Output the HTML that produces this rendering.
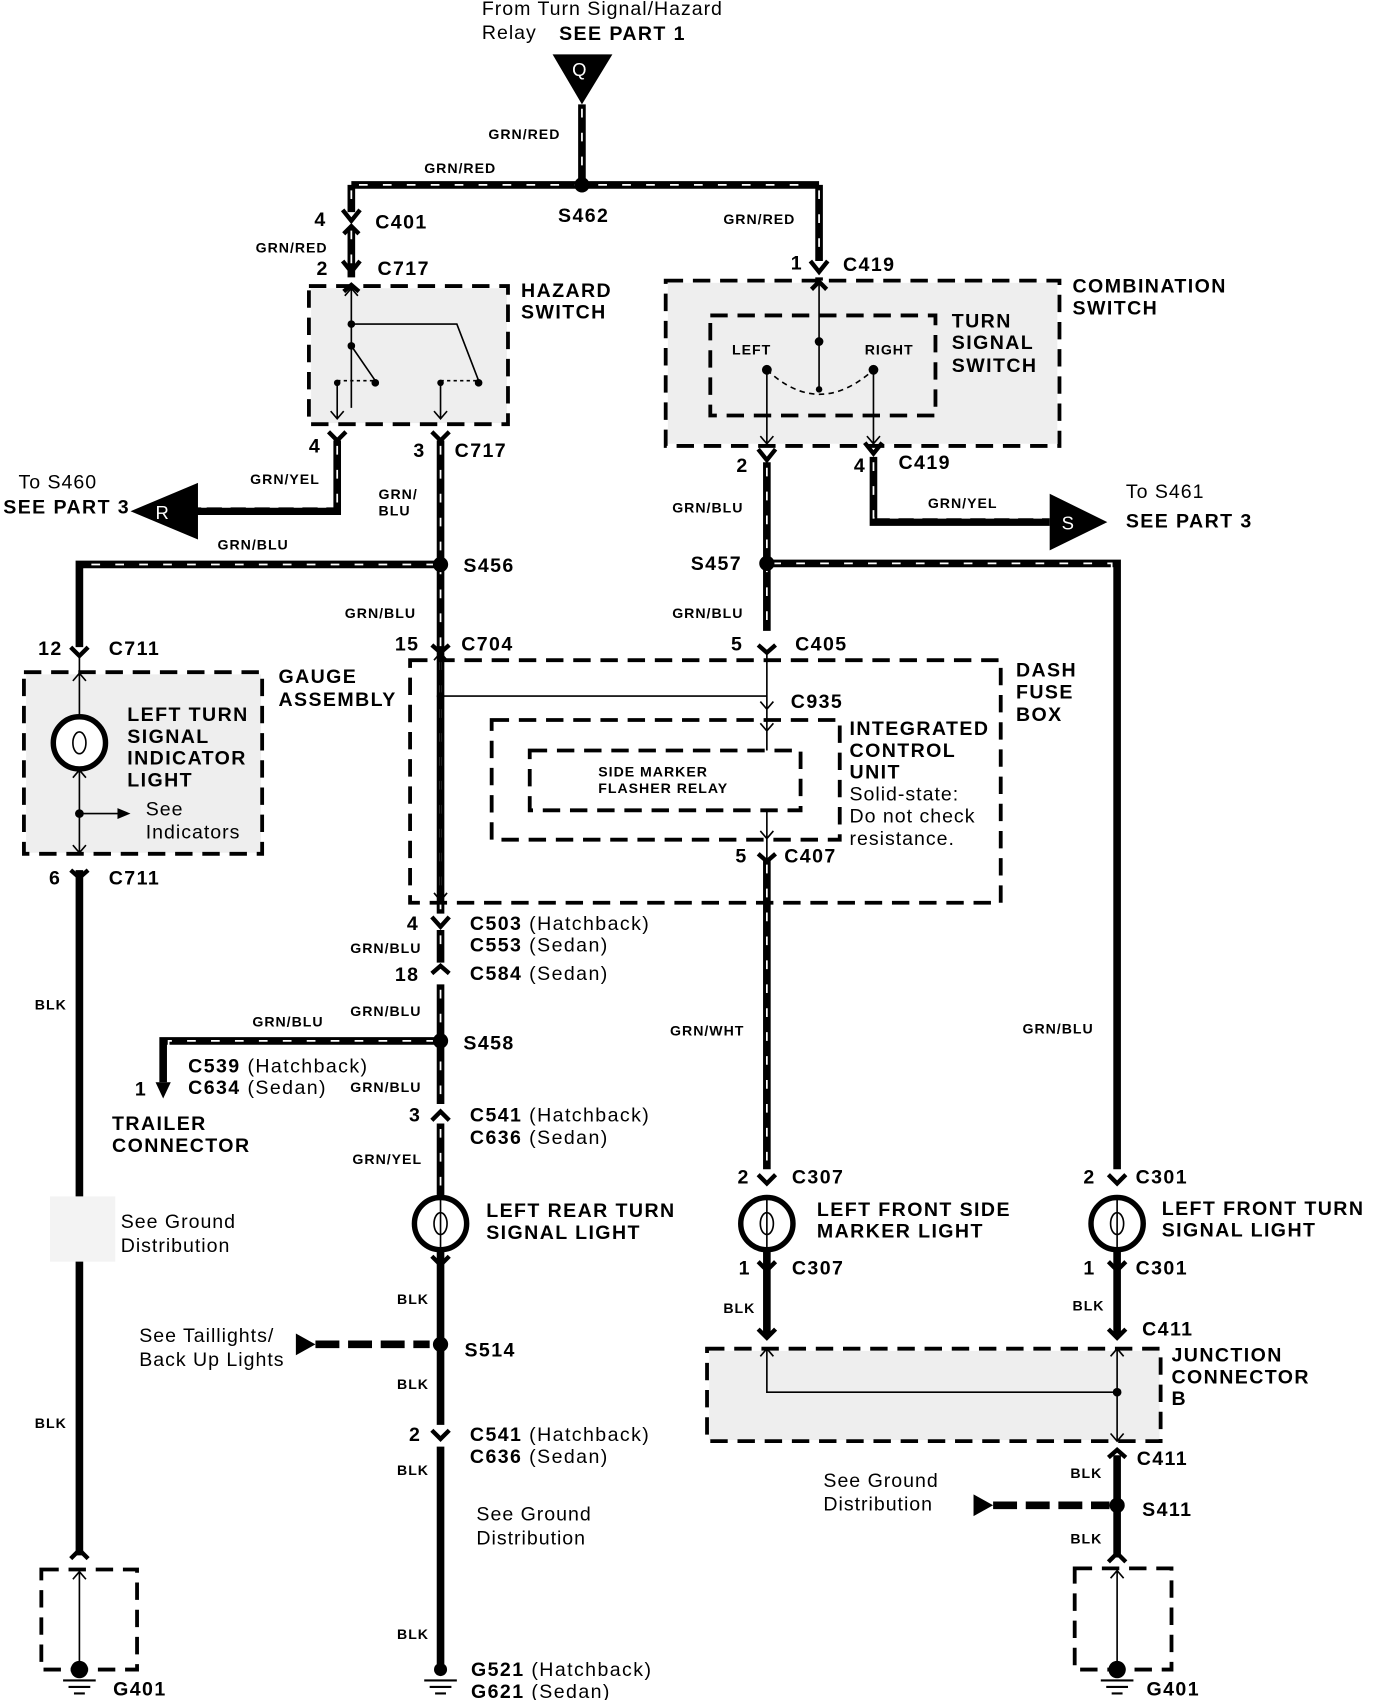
<!DOCTYPE html>
<html><head><meta charset="utf-8"><style>
html,body{margin:0;padding:0;background:#fff}
svg{display:block}
text{font-family:"Liberation Sans",sans-serif;fill:#000}
.b{font-weight:bold;font-size:18px;letter-spacing:1.3px}
.s{font-weight:bold;font-size:13px;letter-spacing:0.9px}
.n{font-size:18px;letter-spacing:0.9px}
.w{stroke:#000;stroke-width:7;fill:none}
.d{stroke:#fff;stroke-width:1.6;stroke-dasharray:8 14;fill:none}
.t{stroke:#000;stroke-width:1.5;fill:none}
.box{stroke:#000;stroke-width:3.5;stroke-dasharray:16 9;fill:none}
.g{fill:#eee}
.c{stroke:#000;stroke-width:4;fill:none}
</style></head><body>
<svg width="1376" height="1700" viewBox="0 0 1265 1563" preserveAspectRatio="none" xmlns="http://www.w3.org/2000/svg">
<rect class="g" x="286" y="265" width="180" height="124"/>
<rect class="g" x="614" y="260" width="358" height="148"/>
<rect class="g" x="24" y="620" width="216" height="164"/>
<rect class="g" x="652" y="1242" width="414" height="82"/>
<rect x="46" y="1100" width="60" height="60" fill="#f3f3f3"/>

<text class="n" x="443" y="14">From Turn Signal/Hazard</text>
<text class="n" x="443" y="36">Relay</text>
<text class="b" x="514" y="37">SEE PART 1</text>
<polygon points="508,50 563,50 535,96" fill="#000"/>
<text x="526" y="70" font-size="17" style="fill:#fff">Q</text>

<g>
<path class="w" d="M535,96 V170 M323,170 H753 M323,170 V195 M753,170 V240 M323,210 V255 M753,255 V258"/>
<path class="w" d="M310,405 V470 H180"/>
<path class="w" d="M405,405 V840 M405,855 V885 M405,905 V1015 M405,1033 V1100"/>
<path class="w" d="M405,519 H73 V595"/>
<path class="w" d="M405,957 H150 V995"/>
<path class="w" d="M705,425 V580 M705,790 V1075"/>
<path class="w" d="M705,518 H1027 V1075"/>
<path class="w" d="M803,420 V480 H965"/>
</g>
<g>
<path class="d" d="M535,100 V165 M330,170 H748 M753,175 V236 M323,175 V192 M323,212 V250"/>
<path class="d" d="M310,410 V466 H185"/>
<path class="d" d="M405,410 V836 M405,860 V882 M405,910 V1012 M405,1038 V1096"/>
<path class="d" d="M400,519 H78 V590"/>
<path class="d" d="M400,957 H155 V990"/>
<path class="d" d="M705,430 V576 M705,795 V1072"/>
<path class="d" d="M710,518 H1022 V1072"/>
<path class="d" d="M803,425 V476 H960"/>
</g>
<path class="w" d="M73,800 V1100 M73,1160 V1430 M405,1150 V1310 M405,1330 V1530 M705,1150 V1228 M1027,1150 V1228 M1027,1338 V1432"/>

<polygon points="120,470 182,444 182,496" fill="#000"/><text x="143" y="477" font-size="17" style="fill:#fff">R</text>
<polygon points="965,454 1018,480 965,506" fill="#000"/><text x="976" y="487" font-size="17" style="fill:#fff">S</text>
<polygon points="272,1226 290,1236 272,1246" fill="#000"/><path d="M290,1236 H395" stroke="#000" stroke-width="7" stroke-dasharray="22 8"/>
<polygon points="895,1374 913,1384 895,1394" fill="#000"/><path d="M913,1384 H1020" stroke="#000" stroke-width="7" stroke-dasharray="22 8"/>
<path d="M150,995 L143,995 L150,1010 L157,995 Z" fill="#000"/>

<circle cx="535" cy="170" r="7"/><circle cx="405" cy="519" r="7"/><circle cx="705" cy="518" r="7"/>
<circle cx="405" cy="957" r="7"/><circle cx="405" cy="1236" r="7"/><circle cx="1027" cy="1384" r="7"/>

<g class="c">
<path d="M315,193 L323,203 L331,193 M316,215 L323,208 L330,215"/>
<path d="M315,240 L323,250 L331,240 M316,268 L323,262 L330,268"/>
<path d="M745,240 L753,250 L761,240 M746,266 L753,259 L760,266"/>
<path d="M302,397 L310,405 L318,397 M397,397 L405,405 L413,397"/>
<path d="M697,413 L705,423 L713,413 M795,407 L803,417 L811,407"/>
<path d="M397,593 L405,600 L413,593 M697,593 L705,600 L713,593"/>
<path d="M65,595 L73,603 L81,595 M65,800 L73,807 L81,800"/>
<path d="M697,785 L705,792 L713,785"/>
<path d="M397,843 L405,852 L413,843 M397,895 L405,888 L413,895"/>
<path d="M397,1030 L405,1022 L413,1030"/>
<path d="M697,1080 L705,1088 L713,1080 M1019,1080 L1027,1088 L1035,1080"/>
<path d="M397,1155 L405,1163 L413,1155 M697,1160 L705,1168 L713,1160 M1019,1160 L1027,1168 L1035,1160"/>
<path d="M697,1222 L705,1230 L713,1222 M1019,1222 L1027,1230 L1035,1222"/>
<path d="M1019,1340 L1027,1333 L1035,1340"/>
<path d="M397,1315 L405,1323 L413,1315"/>
<path d="M65,1433 L73,1425 L81,1433 M1019,1436 L1027,1428 L1035,1436"/>
</g>

<rect class="box" x="284" y="263" width="183" height="127"/>
<rect class="box" x="612" y="258" width="362" height="152"/>
<rect class="box" x="653" y="290" width="207" height="92"/>
<rect class="box" x="22" y="618" width="219" height="167"/>
<rect class="box" x="377" y="607" width="543" height="223"/>
<rect class="box" x="452" y="662" width="320" height="110"/>
<rect class="box" x="487" y="690" width="249" height="55"/>
<rect class="box" x="650" y="1240" width="417" height="85"/>
<rect class="box" x="38" y="1443" width="88" height="92"/>
<rect class="box" x="988" y="1442" width="89" height="93"/>

<g class="t">
<path d="M323,265 V375 M317,272 L323,265 L329,272"/>
<path d="M323,298 H420 L440,350 M323,318 L345,350 M310,350 V385 M405,350 V385 M304,378 L310,385 L316,378 M399,378 L405,385 L411,378"/>
<path d="M310,350 H345 M405,350 H440" stroke-dasharray="3 3"/>
</g>
<circle cx="323" cy="298" r="3.5"/><circle cx="323" cy="318" r="3.5"/><circle cx="345" cy="352" r="3.5"/><circle cx="440" cy="352" r="3.5"/>
<circle cx="310" cy="352" r="3"/><circle cx="405" cy="352" r="3"/>
<g class="t">
<path d="M753,260 V360 M747,267 L753,260 L759,267 M705,340 V408 M803,340 V408 M699,401 L705,408 L711,401 M797,401 L803,408 L809,401"/>
<path d="M705,340 Q753,385 803,340" stroke-dasharray="5 4"/>
</g>
<circle cx="753" cy="314" r="4"/><circle cx="705" cy="340" r="4.5"/><circle cx="803" cy="340" r="4.5"/><circle cx="753" cy="358" r="3"/>
<g class="t">
<path d="M405,600 V828 M399,821 L405,828 L411,821 M405,640 H705 M705,600 V690 M705,745 V790 M699,645 L705,652 L711,645 M699,665 L705,672 L711,665 M699,764 L705,771 L711,764 M399,607 L405,600 L411,607"/>
</g>
<circle cx="405" cy="640" r="3.5"/>
<circle cx="73" cy="683" r="24" fill="#fff" stroke="#000" stroke-width="5"/>
<ellipse cx="73" cy="683" rx="6" ry="10" fill="none" stroke="#000" stroke-width="1.5"/>
<path class="t" d="M73,605 V659 M73,707 V785 M73,748 H112 M67,626 L73,619 L79,626 M67,715 L73,708 L79,715 M67,777 L73,784 L79,777"/>
<polygon points="108,743 120,748 108,753" fill="#000"/><circle cx="73" cy="748" r="4"/>
<g>
<circle cx="405" cy="1125" r="24" fill="#fff" stroke="#000" stroke-width="5"/>
<circle cx="705" cy="1125" r="24" fill="#fff" stroke="#000" stroke-width="5"/>
<circle cx="1027" cy="1125" r="24" fill="#fff" stroke="#000" stroke-width="5"/>
<path class="t" d="M405,1100 V1150 M705,1100 V1150 M1027,1100 V1150"/>
<ellipse cx="405" cy="1125" rx="6" ry="10" fill="none" stroke="#000" stroke-width="1.5"/>
<ellipse cx="705" cy="1125" rx="6" ry="10" fill="none" stroke="#000" stroke-width="1.5"/>
<ellipse cx="1027" cy="1125" rx="6" ry="10" fill="none" stroke="#000" stroke-width="1.5"/>
</g>
<path class="t" d="M705,1240 V1280 H1027 M1027,1240 V1325 M699,1247 L705,1240 L711,1247 M1021,1247 L1027,1240 L1033,1247 M1021,1318 L1027,1325 L1033,1318"/>
<circle cx="1027" cy="1280" r="4"/>
<path class="t" d="M73,1445 V1535 M67,1452 L73,1445 L79,1452 M1027,1444 V1535 M1021,1451 L1027,1444 L1033,1451"/>
<circle cx="73" cy="1535" r="8"/><circle cx="1027" cy="1535" r="8"/><circle cx="405" cy="1535" r="6"/>
<path d="M58,1545 H88 M63,1551 H83 M68,1557 H78 M1012,1545 H1042 M1017,1551 H1037 M1022,1557 H1032 M390,1545 H420 M395,1551 H415 M400,1557 H410" stroke="#000" stroke-width="2"/>

<text class="s" x="449" y="128">GRN/RED</text>
<text class="s" x="390" y="159">GRN/RED</text>
<text class="s" x="665" y="206">GRN/RED</text>
<text class="s" x="235" y="232">GRN/RED</text>
<text class="b" x="289" y="208">4</text><text class="b" x="345" y="210">C401</text>
<text class="b" x="513" y="204">S462</text>
<text class="b" x="291" y="253">2</text><text class="b" x="347" y="253">C717</text>
<text class="b" x="727" y="248">1</text><text class="b" x="775" y="249">C419</text>
<text class="b" x="479" y="273">HAZARD</text><text class="b" x="479" y="293">SWITCH</text>
<text class="b" x="986" y="269">COMBINATION</text><text class="b" x="986" y="289">SWITCH</text>
<text class="b" x="875" y="301">TURN</text><text class="b" x="875" y="321">SIGNAL</text><text class="b" x="875" y="342">SWITCH</text>
<text class="s" x="673" y="326">LEFT</text><text class="s" x="795" y="326">RIGHT</text>
<text class="b" x="284" y="416">4</text><text class="b" x="380" y="420">3</text><text class="b" x="418" y="420">C717</text>
<text class="b" x="677" y="434">2</text><text class="b" x="785" y="434">4</text><text class="b" x="826" y="431">C419</text>
<text class="n" x="17" y="449">To S460</text><text class="b" x="3" y="472">SEE PART 3</text>
<text class="s" x="230" y="445">GRN/YEL</text>
<text class="s" x="348" y="459">GRN/</text><text class="s" x="348" y="474">BLU</text>
<text class="s" x="618" y="471">GRN/BLU</text>
<text class="s" x="853" y="467">GRN/YEL</text>
<text class="n" x="1035" y="458">To S461</text><text class="b" x="1035" y="485">SEE PART 3</text>
<text class="s" x="200" y="505">GRN/BLU</text>
<text class="b" x="426" y="526">S456</text><text class="b" x="635" y="524">S457</text>
<text class="s" x="317" y="568">GRN/BLU</text><text class="s" x="618" y="568">GRN/BLU</text>
<text class="b" x="35" y="602">12</text><text class="b" x="100" y="602">C711</text>
<text class="b" x="363" y="598">15</text><text class="b" x="424" y="598">C704</text>
<text class="b" x="672" y="598">5</text><text class="b" x="731" y="598">C405</text>
<text class="b" x="256" y="628">GAUGE</text><text class="b" x="256" y="649">ASSEMBLY</text>
<text class="b" x="934" y="622">DASH</text><text class="b" x="934" y="642">FUSE</text><text class="b" x="934" y="663">BOX</text>
<text class="b" x="727" y="651">C935</text>
<text class="b" x="781" y="676">INTEGRATED</text><text class="b" x="781" y="696">CONTROL</text><text class="b" x="781" y="716">UNIT</text>
<text class="n" x="781" y="736">Solid-state:</text><text class="n" x="781" y="756">Do not check</text><text class="n" x="781" y="777">resistance.</text>
<text class="s" x="550" y="714">SIDE MARKER</text><text class="s" x="550" y="729">FLASHER RELAY</text>
<text class="b" x="117" y="663">LEFT TURN</text><text class="b" x="117" y="683">SIGNAL</text><text class="b" x="117" y="703">INDICATOR</text><text class="b" x="117" y="723">LIGHT</text>
<text class="n" x="134" y="750">See</text><text class="n" x="134" y="771">Indicators</text>
<text class="b" x="45" y="813">6</text><text class="b" x="100" y="813">C711</text>
<text class="b" x="676" y="793">5</text><text class="b" x="721" y="793">C407</text>
<text class="b" x="374" y="855">4</text><text class="b" x="432" y="855">C503 <tspan font-weight="normal">(Hatchback)</tspan></text>
<text class="b" x="432" y="875">C553 <tspan font-weight="normal">(Sedan)</tspan></text>
<text class="s" x="322" y="876">GRN/BLU</text>
<text class="b" x="363" y="902">18</text><text class="b" x="432" y="901">C584 <tspan font-weight="normal">(Sedan)</tspan></text>
<text class="s" x="32" y="928">BLK</text>
<text class="s" x="232" y="944">GRN/BLU</text><text class="s" x="322" y="934">GRN/BLU</text>
<text class="b" x="426" y="965">S458</text>
<text class="s" x="616" y="952">GRN/WHT</text><text class="s" x="940" y="950">GRN/BLU</text>
<text class="b" x="173" y="986">C539 <tspan font-weight="normal">(Hatchback)</tspan></text>
<text class="b" x="173" y="1006">C634 <tspan font-weight="normal">(Sedan)</tspan></text>
<text class="b" x="124" y="1007">1</text>
<text class="s" x="322" y="1004">GRN/BLU</text>
<text class="b" x="103" y="1039">TRAILER</text><text class="b" x="103" y="1059">CONNECTOR</text>
<text class="b" x="376" y="1031">3</text><text class="b" x="432" y="1031">C541 <tspan font-weight="normal">(Hatchback)</tspan></text>
<text class="b" x="432" y="1052">C636 <tspan font-weight="normal">(Sedan)</tspan></text>
<text class="s" x="324" y="1070">GRN/YEL</text>
<text class="b" x="678" y="1088">2</text><text class="b" x="728" y="1088">C307</text>
<text class="b" x="996" y="1088">2</text><text class="b" x="1044" y="1088">C301</text>
<text class="b" x="447" y="1119">LEFT REAR TURN</text><text class="b" x="447" y="1139">SIGNAL LIGHT</text>
<text class="b" x="751" y="1118">LEFT FRONT SIDE</text><text class="b" x="751" y="1138">MARKER LIGHT</text>
<text class="b" x="1068" y="1117">LEFT FRONT TURN</text><text class="b" x="1068" y="1137">SIGNAL LIGHT</text>
<text class="n" x="111" y="1129">See Ground</text><text class="n" x="111" y="1151">Distribution</text>
<text class="b" x="679" y="1172">1</text><text class="b" x="728" y="1172">C307</text>
<text class="b" x="996" y="1172">1</text><text class="b" x="1044" y="1172">C301</text>
<text class="s" x="365" y="1199">BLK</text><text class="s" x="665" y="1207">BLK</text><text class="s" x="986" y="1205">BLK</text>
<text class="n" x="128" y="1234">See Taillights/</text><text class="n" x="128" y="1256">Back Up Lights</text>
<text class="b" x="1050" y="1228">C411</text>
<text class="b" x="427" y="1247">S514</text>
<text class="b" x="1077" y="1252">JUNCTION</text><text class="b" x="1077" y="1272">CONNECTOR</text><text class="b" x="1077" y="1292">B</text>
<text class="s" x="365" y="1277">BLK</text>
<text class="s" x="32" y="1313">BLK</text>
<text class="b" x="376" y="1325">2</text><text class="b" x="432" y="1325">C541 <tspan font-weight="normal">(Hatchback)</tspan></text>
<text class="b" x="432" y="1345">C636 <tspan font-weight="normal">(Sedan)</tspan></text>
<text class="b" x="1045" y="1347">C411</text>
<text class="s" x="365" y="1356">BLK</text><text class="s" x="984" y="1359">BLK</text>
<text class="n" x="757" y="1367">See Ground</text><text class="n" x="757" y="1389">Distribution</text>
<text class="b" x="1050" y="1394">S411</text>
<text class="n" x="438" y="1398">See Ground</text><text class="n" x="438" y="1420">Distribution</text>
<text class="s" x="984" y="1419">BLK</text>
<text class="s" x="365" y="1507">BLK</text>
<text class="b" x="433" y="1541">G521 <tspan font-weight="normal">(Hatchback)</tspan></text>
<text class="b" x="433" y="1561">G621 <tspan font-weight="normal">(Sedan)</tspan></text>
<text class="b" x="104" y="1559">G401</text><text class="b" x="1054" y="1559">G401</text>
</svg>
</body></html>
